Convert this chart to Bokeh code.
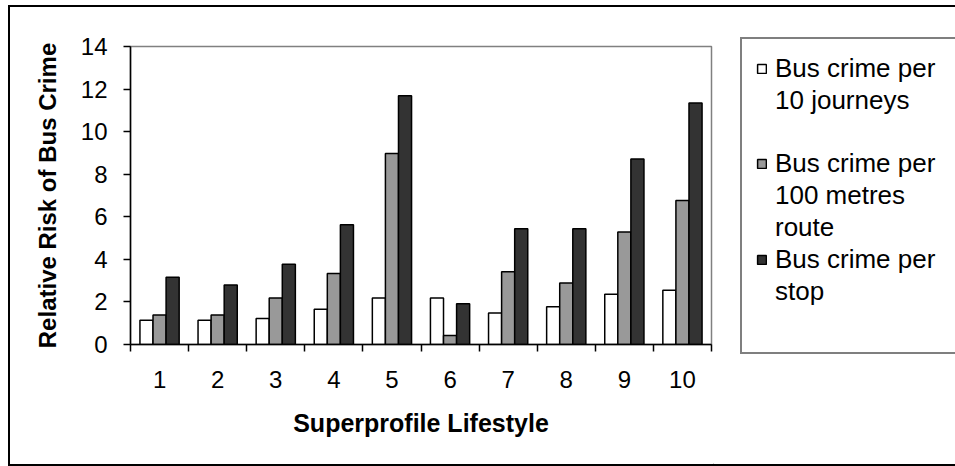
from bokeh.plotting import figure
from bokeh.layouts import row
from bokeh.models import Range1d, FixedTicker, Legend, LegendItem, ColumnDataSource
from bokeh.transform import dodge
from bokeh.embed import file_html
from bokeh.resources import INLINE

# ---- data ----
lifestyles = [1, 2, 3, 4, 5, 6, 7, 8, 9, 10]
per_10_journeys = [1.14, 1.14, 1.22, 1.66, 2.19, 2.19, 1.48, 1.77, 2.36, 2.55]
per_100m_route = [1.39, 1.39, 2.19, 3.33, 8.97, 0.42, 3.42, 2.89, 5.28, 6.77]
per_stop = [3.16, 2.80, 3.77, 5.63, 11.69, 1.91, 5.44, 5.44, 8.72, 11.34]
y_ticks = [0, 2, 4, 6, 8, 10, 12, 14]
series_labels = [["Bus crime per", "10 journeys", " "],
                 ["Bus crime per", "100 metres", "route"],
                 ["Bus crime per", "stop", " "]]
series_colors = ["#FFFFFF", "#999999", "#333333"]
x_title = "Superprofile Lifestyle"
y_title = "Relative Risk of Bus Crime"

FONT = "Liberation Sans"

src = ColumnDataSource(dict(x=lifestyles, a=per_10_journeys, b=per_100m_route, c=per_stop))

# ---------------- main chart ----------------
p = figure(width=703, height=457,
           x_range=Range1d(lifestyles[0] - 0.5, lifestyles[-1] + 0.5),
           y_range=Range1d(y_ticks[0], y_ticks[-1]),
           output_backend="svg", toolbar_location=None,
           min_border_left=120, min_border_right=2,
           min_border_top=39, min_border_bottom=120)
p.frame_align = False

p.xgrid.visible = False
p.ygrid.visible = False
p.outline_line_color = "#808080"
p.outline_line_width = 1.5
p.background_fill_color = "white"
p.border_fill_color = "white"

bw = 0.225
for field, off, col in zip(["a", "b", "c"], [-bw, 0, bw], series_colors):
    p.vbar(x=dodge("x", off), top=field, width=bw, source=src,
           fill_color=col, line_color="black", line_width=1.5)

# x axis
xa = p.xaxis[0]
xa.ticker = FixedTicker(ticks=lifestyles,
                        minor_ticks=[v - 0.5 for v in lifestyles] + [lifestyles[-1] + 0.5])
xa.major_tick_out = 0
xa.major_tick_in = 0
xa.minor_tick_out = 7
xa.minor_tick_in = 0
xa.minor_tick_line_color = "black"
xa.minor_tick_line_width = 1.5
xa.axis_line_color = "black"
xa.axis_line_width = 1.5
xa.major_label_text_font = FONT
xa.major_label_text_font_size = "24px"
xa.major_label_text_color = "black"
xa.major_label_standoff = 19
xa.axis_label = x_title
xa.axis_label_text_font = FONT
xa.axis_label_text_font_style = "bold"
xa.axis_label_text_font_size = "25px"
xa.axis_label_text_color = "black"
xa.axis_label_standoff = 18

# y axis
ya = p.yaxis[0]
ya.ticker = FixedTicker(ticks=y_ticks)
ya.major_tick_out = 7
ya.major_tick_in = 0
ya.major_tick_line_color = "black"
ya.major_tick_line_width = 1.5
ya.minor_tick_out = 0
ya.minor_tick_in = 0
ya.axis_line_color = "black"
ya.axis_line_width = 1.5
ya.major_label_text_font = FONT
ya.major_label_text_font_size = "24px"
ya.major_label_text_color = "black"
ya.major_label_standoff = 16
ya.axis_label = y_title
ya.axis_label_text_font = FONT
ya.axis_label_text_font_style = "bold"
ya.axis_label_text_font_size = "24px"
ya.axis_label_text_color = "black"
ya.axis_label_standoff = 17

# ---------------- legend panel ----------------
lp = figure(width=242, height=457, x_range=Range1d(0, 1), y_range=Range1d(0, 1),
            x_axis_type=None, y_axis_type=None,
            output_backend="svg", toolbar_location=None,
            min_border=0)
lp.frame_align = False
lp.xgrid.visible = False
lp.ygrid.visible = False
lp.outline_line_color = None
lp.background_fill_color = "white"
lp.border_fill_color = "white"

blank = lp.vbar(x=[-5], top=[0], width=0.1, fill_alpha=0, line_alpha=0)
items = []
for lines, col in zip(series_labels, series_colors):
    r = lp.vbar(x=[-5], top=[0], width=0.1, fill_color=col, line_color="black", line_width=1.5)
    items.append(LegendItem(label=lines[0], renderers=[r]))
    for extra in lines[1:]:
        items.append(LegendItem(label=extra, renderers=[blank]))

legend = Legend(items=items, location=(27, 110))
legend.label_text_font = FONT
legend.label_text_font_size = "26px"
legend.label_text_line_height = 1.15
legend.label_text_color = "black"
legend.glyph_width = 11
legend.glyph_height = 11
legend.label_height = 30
legend.label_width = 172
legend.label_standoff = 8
legend.padding = 14
legend.spacing = 1
legend.margin = 0
legend.border_line_color = "black"
legend.border_line_width = 2
legend.background_fill_color = "white"
legend.background_fill_alpha = 1.0
lp.add_layout(legend)

layout = row(p, lp, spacing=0,
             styles={"border-left": "2px solid black",
                     "border-top": "2px solid black",
                     "border-bottom": "2px solid black",
                     "margin-left": "8px", "margin-top": "5px"})

open("out.html", "w").write(file_html(layout, INLINE))
